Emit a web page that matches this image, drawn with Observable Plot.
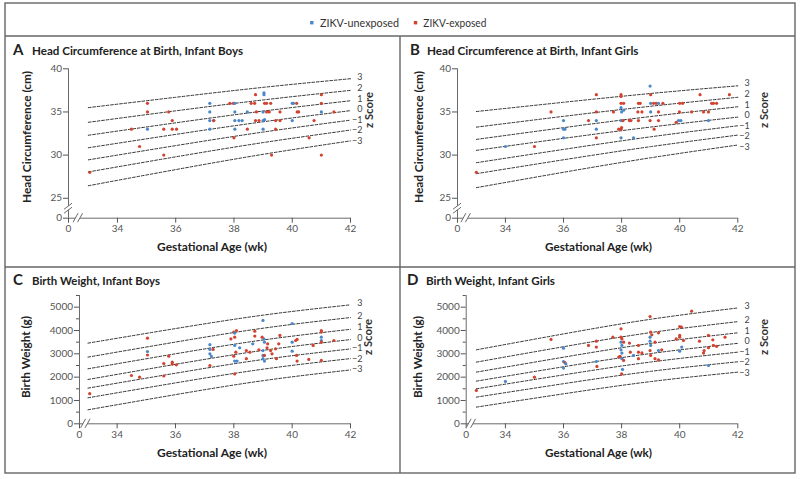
<!DOCTYPE html>
<html><head><meta charset="utf-8">
<script src="https://cdn.jsdelivr.net/npm/d3@7"></script>
<script src="https://cdn.jsdelivr.net/npm/@observablehq/plot@0.6"></script>
<style>
body{margin:0;background:#fff;}
#root{position:relative;width:800px;height:479px;overflow:hidden;background:#fff;}
.panel{position:absolute;}
#overlay{position:absolute;left:0;top:0;pointer-events:none;}
</style></head>
<body><div id="root"></div>
<script>
// ---------- data ----------
const zScores = [3, 2, 1, 0, -1, -2, -3];
const refAges = [33, 36, 39, 42];
const xTickWeeks = [34, 36, 38, 40, 42];
const hcTicks = [25, 30, 35, 40];
const bwTicks = [0, 1000, 2000, 3000, 4000, 5000];
const bwMinorTicks = [500, 1500, 2500, 3500, 4500, 5500];
const groups = ["U", "E"];
const groupNames = ["ZIKV-unexposed", "ZIKV-exposed"];

// z-score reference curves (rows follow zScores, columns follow refAges)
const hcBoysRef = [
  [35.5, 36.7, 37.85, 38.85],
  [33.8, 35.13, 36.39, 37.5],
  [32.3, 33.74, 35.1, 36.3],
  [30.85, 32.4, 33.86, 35.15],
  [29.45, 31.1, 32.67, 34.05],
  [28.05, 29.8, 31.45, 32.9],
  [26.45, 28.32, 30.09, 31.65]];
const hcGirlsRef = [
  [35.05, 36.12, 37.14, 38.03],
  [33.24, 34.49, 35.66, 36.7],
  [31.82, 33.18, 34.47, 35.6],
  [30.55, 31.94, 33.25, 34.4],
  [29.12, 30.66, 32.12, 33.4],
  [27.85, 29.46, 30.98, 32.32],
  [26.23, 28.01, 29.69, 31.17]];
const bwBoysRef = [
  [3458, 4082, 4657, 5100],
  [2858, 3503, 4097, 4555],
  [2358, 3001, 3593, 4050],
  [1900, 2550, 3148, 3610],
  [1529, 2168, 2756, 3210],
  [1115, 1753, 2341, 2795],
  [600, 1250, 1848, 2310]];
const bwGirlsRef = [
  [3172, 3853, 4481, 4965],
  [2644, 3304, 3911, 4380],
  [2215, 2855, 3445, 3900],
  [1829, 2445, 3012, 3450],
  [1500, 2097, 2648, 3072],
  [1143, 1719, 2249, 2658],
  [715, 1285, 1810, 2215]];

// infants: [gestational age (wk), value, group]
const hcBoys = [
  [33.05,28,"E"],[34.48,33,"E"],[34.76,31,"E"],[35.03,36,"E"],[35.03,35,"E"],[35.03,33,"U"],[35.59,33,"E"],[35.59,30,"E"],[35.76,35,"E"],[35.88,34,"E"],[35.88,33,"E"],[36.03,33,"E"],
  [37.17,36,"U"],[37.17,35,"U"],[37.17,34,"U"],[37.31,34,"U"],[37.3,34,"E"],[37.17,33,"U"],
  [37.86,36,"E"],[37.98,36,"E"],[38.03,36,"U"],[38.03,35,"U"],[38.03,34,"U"],[38.17,34,"U"],[38.28,34,"U"],[38.03,33,"U"],[38.0,32,"E"],
  [38.46,33,"E"],[38.46,35,"U"],[38.59,36,"E"],[38.71,36,"E"],[38.77,35,"E"],[38.74,34,"E"],[38.86,34,"E"],[38.74,37,"E"],
  [39.03,37,"U"],[39.03,37.2,"U"],[39.0,35,"U"],[39.12,35,"E"],[39.21,35,"E"],[39.05,36,"E"],[39.12,36,"E"],[39.26,36,"E"],[39.0,34,"U"],[39.05,34.1,"U"],[39.0,33,"U"],
  [39.43,34,"E"],[39.58,34,"E"],[39.43,33,"E"],[39.58,35,"E"],[39.29,30,"E"],
  [40.0,36,"U"],[40.04,36,"U"],[40.15,36,"E"],[40.17,35,"E"],[40.22,35,"E"],[40.0,34,"U"],[40.58,32,"E"],[40.75,34,"E"],[41.0,37,"E"],[41.0,36,"E"],[41.0,35,"U"],[41.43,35,"E"],[41.0,30,"E"]];
const hcGirls = [
  [33.0,28,"E"],[34.0,31,"U"],[35.0,31,"E"],[35.57,35,"E"],[36.0,34,"U"],[36.0,33,"U"],[36.05,33,"U"],[36.0,32,"U"],
  [36.86,34,"E"],[37.13,37,"E"],[37.13,35,"E"],[37.13,34,"U"],[37.13,33,"U"],[37.13,32,"E"],[37.72,35,"E"],
  [37.98,37,"E"],[37.98,36.8,"E"],[37.98,36,"E"],[38.07,36,"E"],[37.98,35.5,"U"],[38.0,35,"U"],[38.07,35.2,"U"],[37.98,34,"U"],[38.05,34,"E"],[37.9,33,"E"],[37.98,33,"E"],[38.0,33.2,"E"],[37.98,32,"U"],[38.41,32,"U"],
  [38.27,34,"E"],[38.32,34,"E"],[38.58,36,"E"],[38.64,36,"E"],[38.56,35,"E"],[38.7,35,"E"],[38.58,34,"E"],
  [38.98,38,"U"],[39.0,37,"E"],[39.0,36,"U"],[39.1,36,"E"],[39.19,36,"E"],[39.27,36,"U"],[39.42,36,"E"],[39.0,35,"U"],[39.27,35,"E"],[38.98,34,"E"],[39.27,34,"E"],[39.12,33,"E"],
  [39.99,35,"E"],[40.0,36,"E"],[40.1,36,"E"],[39.96,34,"U"],[40.04,34,"U"],[39.88,33.8,"E"],[40.41,35,"E"],[40.7,37,"E"],[40.82,35,"E"],[40.99,35,"E"],[40.99,34,"U"],[41.1,36,"E"],[41.16,36,"E"],[41.27,36,"E"],[41.71,37,"E"]];
const bwBoys = [
  [33.06,1290,"E"],[34.49,2070,"E"],[34.77,2000,"E"],[35.04,3670,"E"],[35.04,3100,"U"],[35.04,2950,"E"],[35.6,2050,"E"],[35.6,2580,"E"],[35.77,2900,"E"],[35.89,2640,"E"],[35.89,2560,"E"],[36.03,2530,"E"],
  [37.18,3390,"U"],[37.18,3190,"U"],[37.29,3190,"E"],[37.18,3000,"U"],[37.23,2890,"U"],[37.18,2500,"E"],
  [37.9,3640,"E"],[38.0,3930,"E"],[38.09,4000,"E"],[38.03,3890,"U"],[38.03,3715,"E"],[38.03,3360,"U"],[38.07,3070,"E"],[38.0,2900,"E"],[38.03,2690,"U"],[38.11,2690,"U"],[38.03,2140,"E"],
  [38.2,3260,"U"],[38.43,2790,"E"],[38.43,3140,"E"],[38.55,3070,"E"],[38.72,3970,"E"],[38.72,3760,"E"],[38.65,3430,"U"],[38.86,3170,"E"],
  [39.0,4430,"U"],[39.03,3640,"U"],[39.05,3500,"U"],[38.97,3715,"E"],[39.0,3140,"U"],[39.0,2930,"U"],[39.05,2930,"E"],[39.0,2790,"U"],[39.05,2690,"U"],
  [39.16,3430,"E"],[39.14,3260,"E"],[39.26,3140,"E"],[39.31,3000,"E"],[39.43,3215,"E"],[39.46,2790,"E"],[39.58,3790,"E"],[39.54,3430,"E"],
  [40.0,4300,"U"],[40.0,3500,"U"],[40.0,3115,"U"],[40.12,3570,"E"],[40.17,3615,"E"],[40.15,2930,"E"],[40.17,2690,"E"],[40.72,3360,"E"],[40.57,2760,"E"],
  [41.0,4000,"E"],[41.0,3930,"E"],[41.0,3715,"U"],[41.0,3570,"U"],[41.0,3500,"E"],[41.0,2715,"E"],[41.43,3570,"E"]];
const bwGirls = [
  [33.0,1430,"E"],[34.0,1815,"U"],[35.0,2000,"E"],[35.57,3615,"E"],[36.0,3240,"U"],[36.0,2670,"U"],[36.05,2620,"E"],[36.08,2570,"U"],[36.0,2390,"U"],
  [36.86,3360,"E"],[37.13,3540,"E"],[37.13,3290,"E"],[37.13,2670,"U"],[37.15,2460,"E"],[37.7,3715,"E"],
  [37.98,4070,"E"],[37.98,3715,"E"],[38.01,3640,"E"],[37.98,3500,"U"],[38.01,3360,"U"],[37.98,3170,"U"],[38.01,3030,"U"],[38.07,3500,"E"],[37.9,2860,"E"],[37.95,2890,"E"],[38.01,2790,"U"],[38.07,2715,"E"],[38.03,2330,"U"],[38.0,2140,"E"],
  [38.27,3460,"E"],[38.3,3070,"E"],[38.41,2930,"U"],[38.58,3070,"E"],[38.7,3040,"E"],[38.58,3360,"E"],[38.58,2790,"E"],
  [38.98,4600,"E"],[39.0,3930,"E"],[39.04,3815,"E"],[38.98,3715,"U"],[38.98,3540,"U"],[39.0,3360,"U"],[39.15,3500,"E"],[39.0,2930,"E"],[38.98,3140,"E"],[39.15,2790,"E"],[39.27,2740,"E"],[39.27,3900,"E"],[39.27,3140,"U"],[39.38,3170,"E"],
  [39.88,3640,"E"],[40.0,3790,"E"],[40.0,3715,"E"],[40.0,4170,"E"],[40.06,4150,"E"],[40.0,3115,"U"],[40.07,3290,"U"],[40.13,3570,"E"],[40.41,4830,"E"],[40.68,3540,"E"],[40.82,3030,"E"],[40.84,3140,"E"],[40.99,3790,"E"],[40.99,3260,"E"],[40.99,2500,"U"],[41.14,3600,"E"],[41.16,3360,"E"],[41.27,3320,"E"],[41.56,3715,"E"]];

const panelTitles = ["Head Circumference at Birth, Infant Boys", "Head Circumference at Birth, Infant Girls", "Birth Weight, Infant Boys", "Birth Weight, Infant Girls"];
const panelLetters = ["A", "B", "C", "D"];
const yLabels = ["Head Circumference (cm)", "Head Circumference (cm)", "Birth Weight (g)", "Birth Weight (g)"];
const xLabel = "Gestational Age (wk)";
const zLabel = "z Score";

// ---------- styles / layout ----------
const FONT = "Lato, 'Open Sans', sans-serif";
const AXIS = "#6a6a6a";
const BLUE = "#4a87c9", RED = "#d2432f";
const LINE = "#666";
const Z_FONT = 9;
const Z_GAP = 10.5;

const layout = [
  {data: hcBoys, ref: hcBoysRef, hc: true, left: 5, top: 36, w: 395, h: 231, ml: 63, mr: 50, mt: 32.3, mb: 49.3, xStart: 32.32, xBreakOff: 0.38, yDomain: [22.69, 40]},
  {data: hcGirls, ref: hcGirlsRef, hc: true, left: 400, top: 36, w: 395, h: 231, ml: 57, mr: 57.7, mt: 32.3, mb: 49.3, xStart: 32.35, xBreakOff: 0.34, yDomain: [22.69, 40]},
  {data: bwBoys, ref: bwBoysRef, hc: false, left: 5, top: 267, w: 395, h: 206, ml: 74, mr: 50, mt: 28, mb: 49.7, xStart: 32.71, xBreakOff: 0.26, yDomain: [0, 5500]},
  {data: bwGirls, ref: bwGirlsRef, hc: false, left: 400, top: 267, w: 395, h: 206, ml: 65.7, mr: 57.7, mt: 28, mb: 49.7, xStart: 32.65, xBreakOff: 0.22, yDomain: [0, 5500]}
];

const root = document.getElementById("root");

function breakMarks(p) {
  return (index, {x, y}) => {
    const g = d3.create("svg:g");
    const spots = [[x(p.xStart + p.xBreakOff), y(p.yDomain[0]), "h"]];
    if (p.hc) spots.push([x(p.xStart), y((p.yDomain[0] + hcTicks[0]) / 2), "v"]);
    for (const [cx, cy, o] of spots) {
      let a, b;
      if (o === "h") {
        a = [[cx - 6, cy + 4.5], [cx - 1, cy - 4.5]];
        b = [[cx - 1.5, cy + 4.5], [cx + 3.5, cy - 4.5]];
      } else {
        a = [[cx - 4, cy + 1.5], [cx + 4, cy - 4.5]];
        b = [[cx - 4, cy + 5.5], [cx + 4, cy - 0.5]];
      }
      g.append("path").attr("d", `M${a[0]}L${a[1]}L${b[1]}L${b[0]}Z`).attr("fill", "white");
      g.append("path").attr("d", `M${a[0]}L${a[1]}M${b[0]}L${b[1]}`).attr("stroke", AXIS).attr("fill", "none").attr("stroke-width", 1);
    }
    return g.node();
  };
}

// spread z labels vertically (pixel offsets) so neighbouring labels do not collide
function zLabelOffsets(p, ends) {
  const pxPerUnit = (p.h - p.mt - p.mb) / (p.yDomain[1] - p.yDomain[0]);
  const orig = ends.map(d => -d.val * pxPerUnit);   // increasing downward (z=3 first)
  const pos = orig.slice();
  for (let i = 1; i < pos.length; i++) pos[i] = Math.max(pos[i], pos[i - 1] + Z_GAP);
  const shift = d3.mean(orig) - d3.mean(pos);
  return pos.map((v, i) => v + shift - orig[i]);
}

layout.forEach((p, k) => {
  const dots = p.data.map(([wk, val, grp]) => ({wk, val, grp}));
  const curvePts = p.ref.flatMap((row, i) => row.map((val, j) => ({z: zScores[i], wk: refAges[j], val})));
  const ends = p.ref.map((row, i) => ({z: zScores[i], wk: refAges[refAges.length - 1], val: row[row.length - 1]}));
  const offs = zLabelOffsets(p, ends);
  const yStart = p.yDomain[0];
  const yTickVals = p.hc ? [yStart, ...hcTicks] : bwTicks;
  const marks = [
    Plot.line(curvePts, {x: "wk", y: "val", z: "z", curve: "natural", stroke: "#333", strokeWidth: 1, strokeDasharray: "2.7,1.8"}),
    ...ends.map((d, i) => Plot.text([d], {x: "wk", y: "val", text: e => e.z < 0 ? "\u2212" + (-e.z) : String(e.z), dx: 12, dy: offs[i] - 1, textAnchor: "end", fill: "#444", fontSize: Z_FONT})),
    Plot.dot(dots, {x: "wk", y: "val", fill: "grp", r: 1.6}),
    Plot.ruleX([p.xStart], {stroke: AXIS}),
    Plot.ruleY([yStart], {stroke: AXIS}),
    Plot.axisX([p.xStart, ...xTickWeeks], {tickFormat: d => d === p.xStart ? "0" : String(d), tickSize: 5, tickPadding: 2, label: null, color: "#555", fontSize: 10}),
    Plot.axisY(yTickVals, {tickFormat: d => d === yStart ? "0" : String(d), tickSize: 5, tickPadding: 1.5, label: null, color: "#555", fontSize: 10}),
    breakMarks(p)
  ];
  if (!p.hc) marks.push(Plot.axisY(bwMinorTicks, {tickFormat: () => "", tickSize: 3, label: null, color: "#555"}));
  const svg = Plot.plot({
    width: p.w, height: p.h,
    marginLeft: p.ml, marginRight: p.mr, marginTop: p.mt, marginBottom: p.mb,
    style: {fontFamily: FONT, fontSize: "10px", background: "transparent", overflow: "visible", color: "#555"},
    x: {domain: [p.xStart, 42]},
    y: {domain: p.yDomain},
    color: {domain: groups, range: [BLUE, RED]},
    marks
  });
  const div = document.createElement("div");
  div.className = "panel";
  div.style.left = p.left + "px";
  div.style.top = p.top + "px";
  div.appendChild(svg);
  root.appendChild(div);
});

// ---------- overlay: frame, legend, titles, axis labels ----------
const ov = d3.select(root).append("svg").attr("id", "overlay").attr("width", 800).attr("height", 479)
  .style("font-family", FONT);
const frame = ov.append("g").attr("stroke", LINE).attr("stroke-width", 1.4).attr("fill", "none");
frame.append("rect").attr("x", 5).attr("y", 3).attr("width", 790).attr("height", 470);
frame.append("line").attr("x1", 5).attr("x2", 795).attr("y1", 36).attr("y2", 36);
frame.append("line").attr("x1", 5).attr("x2", 795).attr("y1", 267).attr("y2", 267);
frame.append("line").attr("x1", 400).attr("x2", 400).attr("y1", 36).attr("y2", 473);

// legend
const legendPos = [{sx: 311.8, tx: 320, len: 79}, {sx: 415.5, tx: 423.3, len: 63}];
groups.forEach((g, i) => {
  const lp = legendPos[i];
  ov.append("rect").attr("x", lp.sx - 1.7).attr("y", 21).attr("width", 3.4).attr("height", 3.4).attr("fill", i === 0 ? BLUE : RED);
  ov.append("text").attr("x", lp.tx).attr("y", 26.5).attr("font-size", 12).attr("fill", "#333")
    .attr("textLength", lp.len).attr("lengthAdjust", "spacingAndGlyphs").text(groupNames[i]);
});

// titles
const titlePos = [
  {lx: 13, tx: 32, y: 54.5, len: 211}, {lx: 410, tx: 427, y: 54.5, len: 211.5},
  {lx: 13, tx: 32, y: 284.5, len: 128}, {lx: 407, tx: 426, y: 284.5, len: 129}];
titlePos.forEach((t, i) => {
  ov.append("text").attr("x", t.lx).attr("y", t.y).attr("font-size", 15).attr("font-weight", 700).attr("fill", "#222").text(panelLetters[i]);
  ov.append("text").attr("x", t.tx).attr("y", t.y).attr("font-size", 11.5).attr("font-weight", 700).attr("fill", "#222")
    .attr("textLength", t.len).attr("lengthAdjust", "spacingAndGlyphs").text(panelTitles[i]);
});

// y-axis labels (rotated)
const yLabPos = [{x: 27, y: 137, len: 132}, {x: 418.5, y: 137, len: 132}, {x: 25.5, y: 357, len: 82}, {x: 418, y: 357, len: 82}];
yLabPos.forEach((t, i) => {
  ov.append("text").attr("transform", `translate(${t.x},${t.y}) rotate(-90)`).attr("text-anchor", "middle").attr("dy", "0.36em")
    .attr("font-size", 11.5).attr("font-weight", 700).attr("fill", "#222")
    .attr("textLength", t.len).attr("lengthAdjust", "spacingAndGlyphs").text(yLabels[i]);
});

// x-axis labels
const xLabPos = [{x: 212, y: 251, len: 110}, {x: 598.5, y: 251, len: 107}, {x: 212, y: 457, len: 110}, {x: 598.5, y: 457, len: 107}];
xLabPos.forEach(t => {
  ov.append("text").attr("x", t.x).attr("y", t.y).attr("text-anchor", "middle")
    .attr("font-size", 11.5).attr("font-weight", 700).attr("fill", "#222")
    .attr("textLength", t.len).attr("lengthAdjust", "spacingAndGlyphs").text(xLabel);
});

// z Score labels
const zLabPos = [{x: 369.5, y: 110}, {x: 764, y: 110}, {x: 368, y: 337}, {x: 764, y: 337}];
zLabPos.forEach(t => {
  ov.append("text").attr("transform", `translate(${t.x},${t.y}) rotate(-90)`).attr("text-anchor", "middle").attr("dy", "0.36em")
    .attr("font-size", 11).attr("font-weight", 700).attr("fill", "#333")
    .attr("textLength", 36).attr("lengthAdjust", "spacingAndGlyphs").text(zLabel);
});
</script></body></html>
